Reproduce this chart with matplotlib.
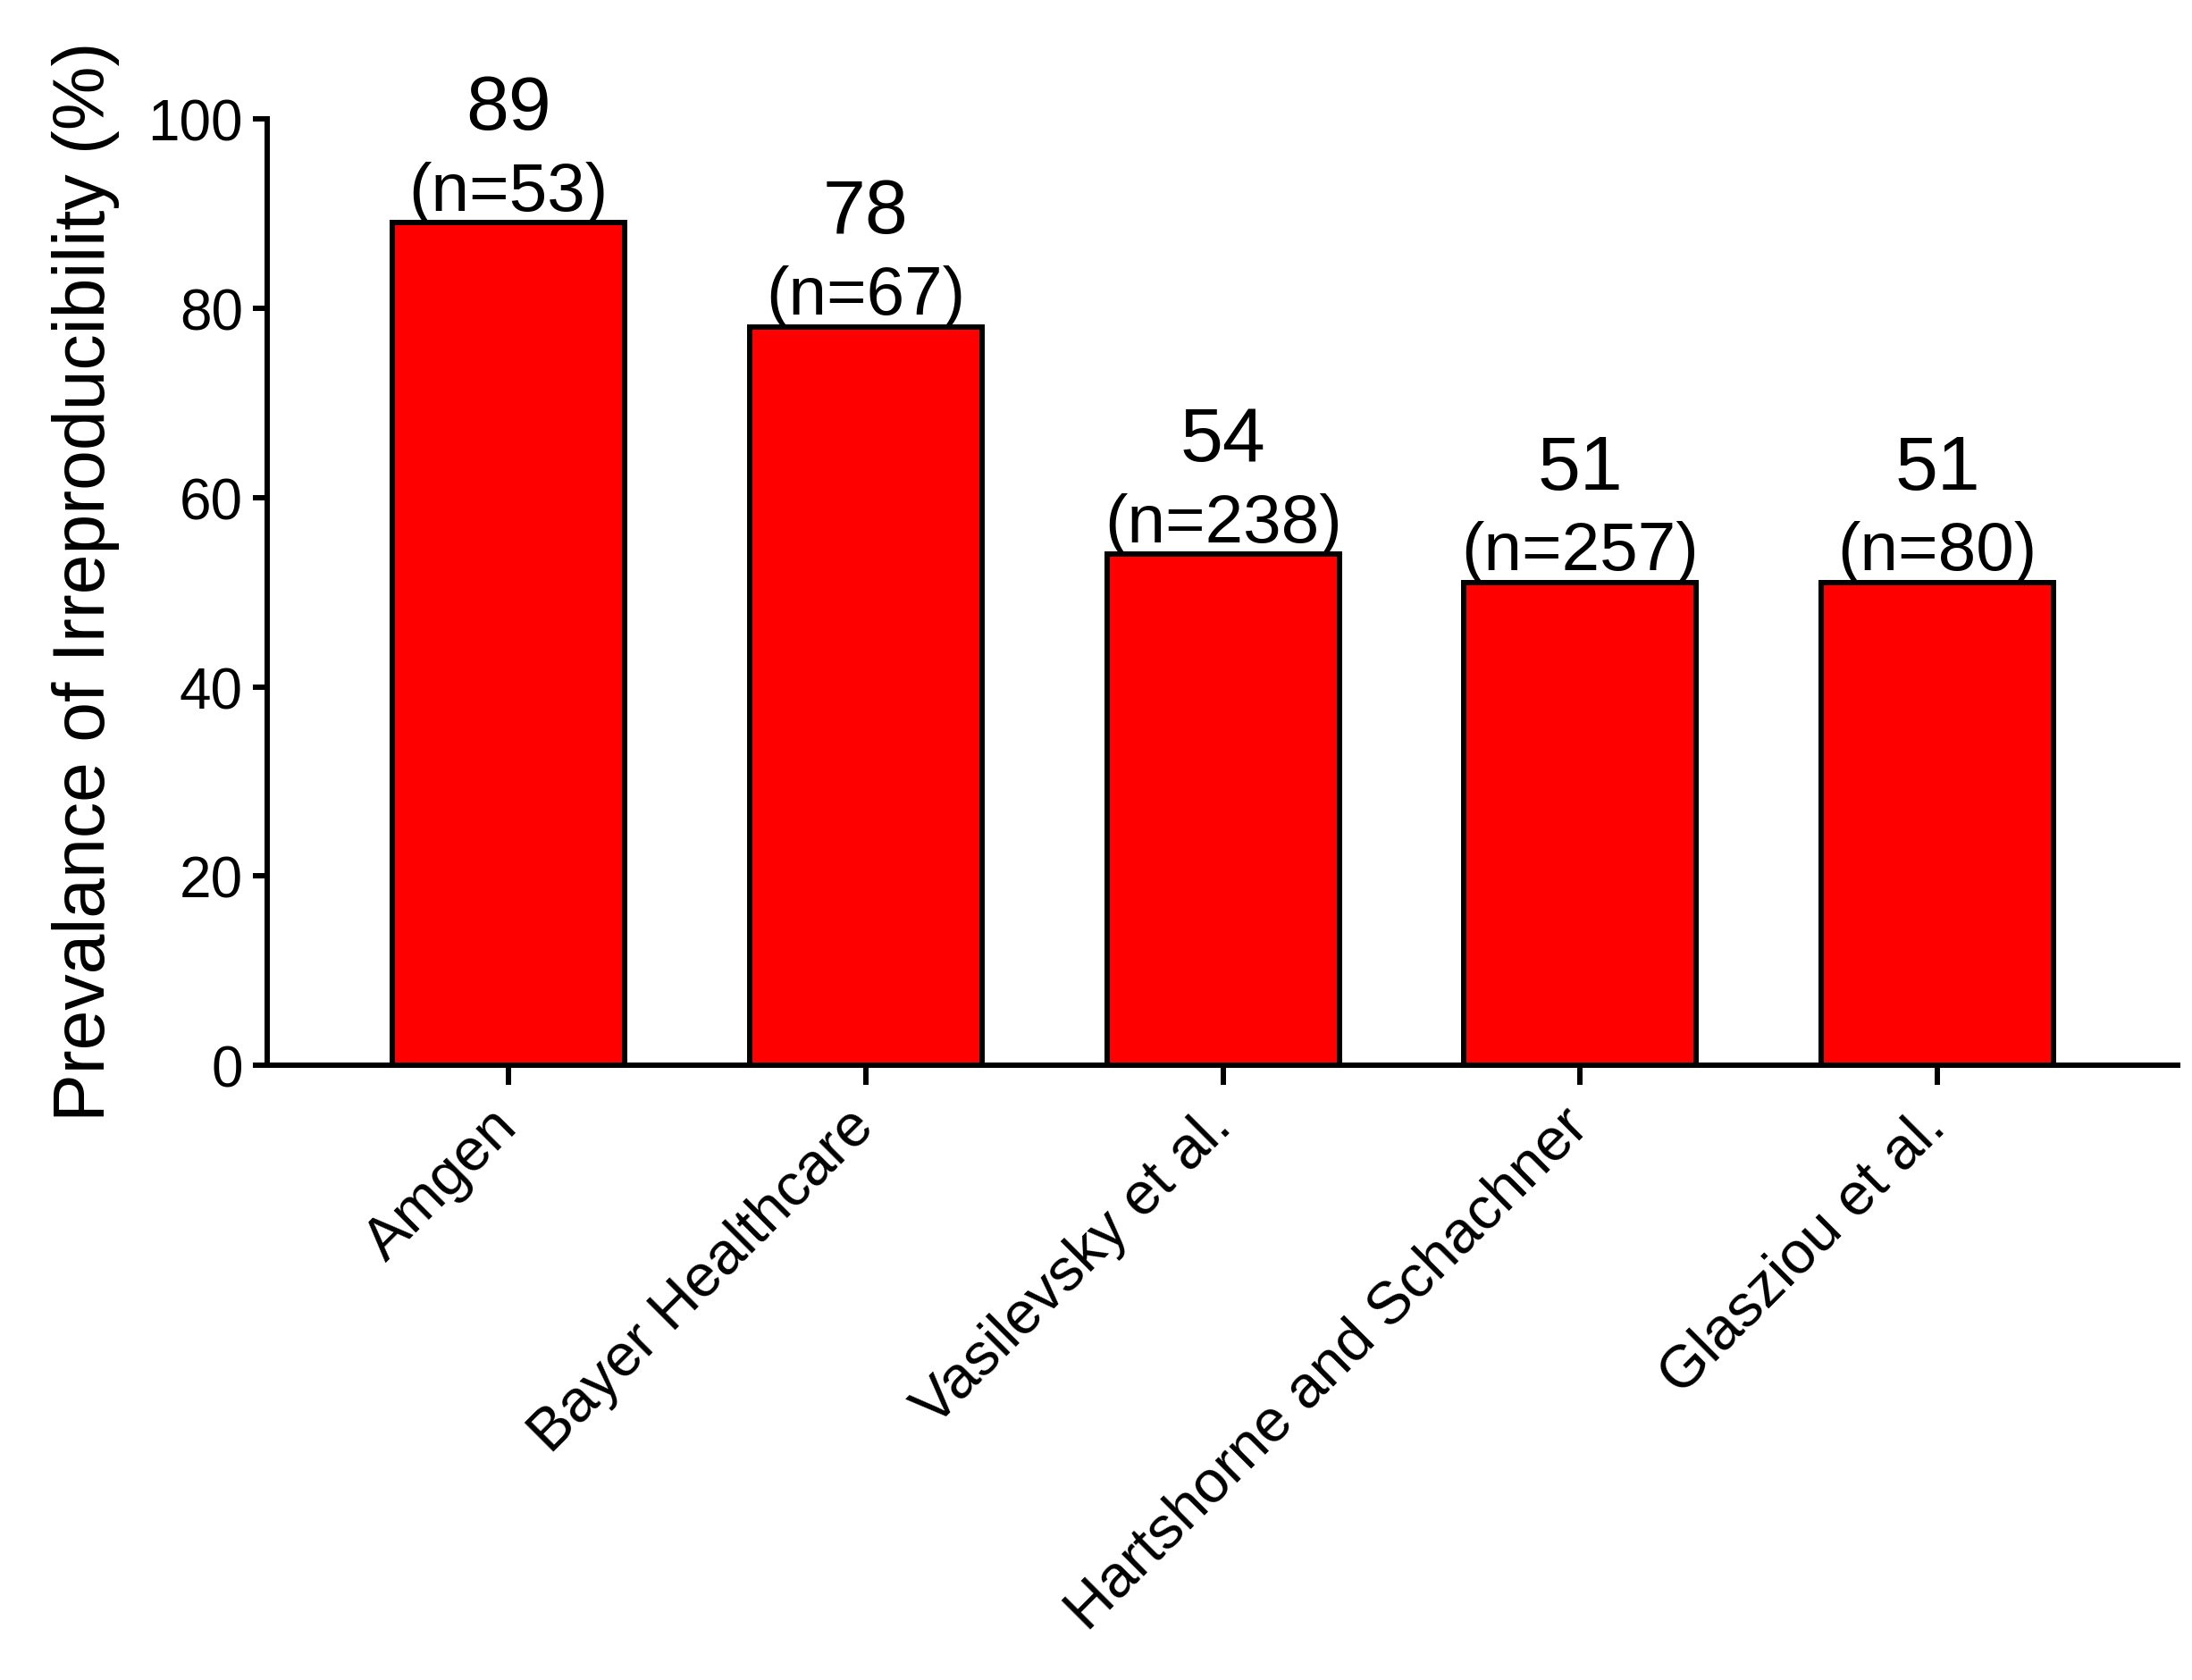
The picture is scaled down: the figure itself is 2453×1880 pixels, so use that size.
import matplotlib
matplotlib.use('Agg')
import matplotlib.pyplot as plt

# data
studies = ['Amgen', 'Bayer Healthcare', 'Vasilevsky et al.',
           'Hartshorne and Schachner', 'Glasziou et al.']
prevalence = [89, 78, 54, 51, 51]
n_studies = [53, 67, 238, 257, 80]

plt.rcParams['font.family'] = ['Liberation Sans', 'DejaVu Sans']

fig = plt.figure(figsize=(24.53, 18.81), dpi=100)
ax = fig.add_axes([0.1219, 0.3656, 0.8716, 0.5632])

x = list(range(len(studies)))
ax.bar(x, prevalence, width=0.65, color='#ff0000', edgecolor='black', linewidth=4.3)

# numbers above bars
for xi, p, n in zip(x, prevalence, n_studies):
    ax.annotate('(n=%d)' % n, (xi, p), xytext=(0, -1), textcoords='offset points',
                ha='center', va='bottom', fontsize=55)
    ax.annotate(str(p), (xi, p), xytext=(0, 63), textcoords='offset points',
                ha='center', va='bottom', fontsize=62)

ax.set_xlim(-0.676, 4.673)
ax.set_ylim(0, 100)
ax.set_yticks([0, 20, 40, 60, 80, 100])
ax.set_xticks(x)
ax.set_xticklabels(studies, rotation=45, ha='right', va='center', rotation_mode='anchor')

for s in ['top', 'right']:
    ax.spines[s].set_visible(False)
for s in ['left', 'bottom']:
    ax.spines[s].set_linewidth(4.3)

ax.tick_params(axis='y', length=11.5, width=4.3, labelsize=46, pad=8)
ax.tick_params(axis='x', length=16, width=4.3, labelsize=48, pad=26)

ax.set_ylabel('Prevalance of Irreproducibility (%)', fontsize=58)
ax.yaxis.set_label_coords(-0.077, 0.512)

fig.savefig('out.png', dpi=100)
